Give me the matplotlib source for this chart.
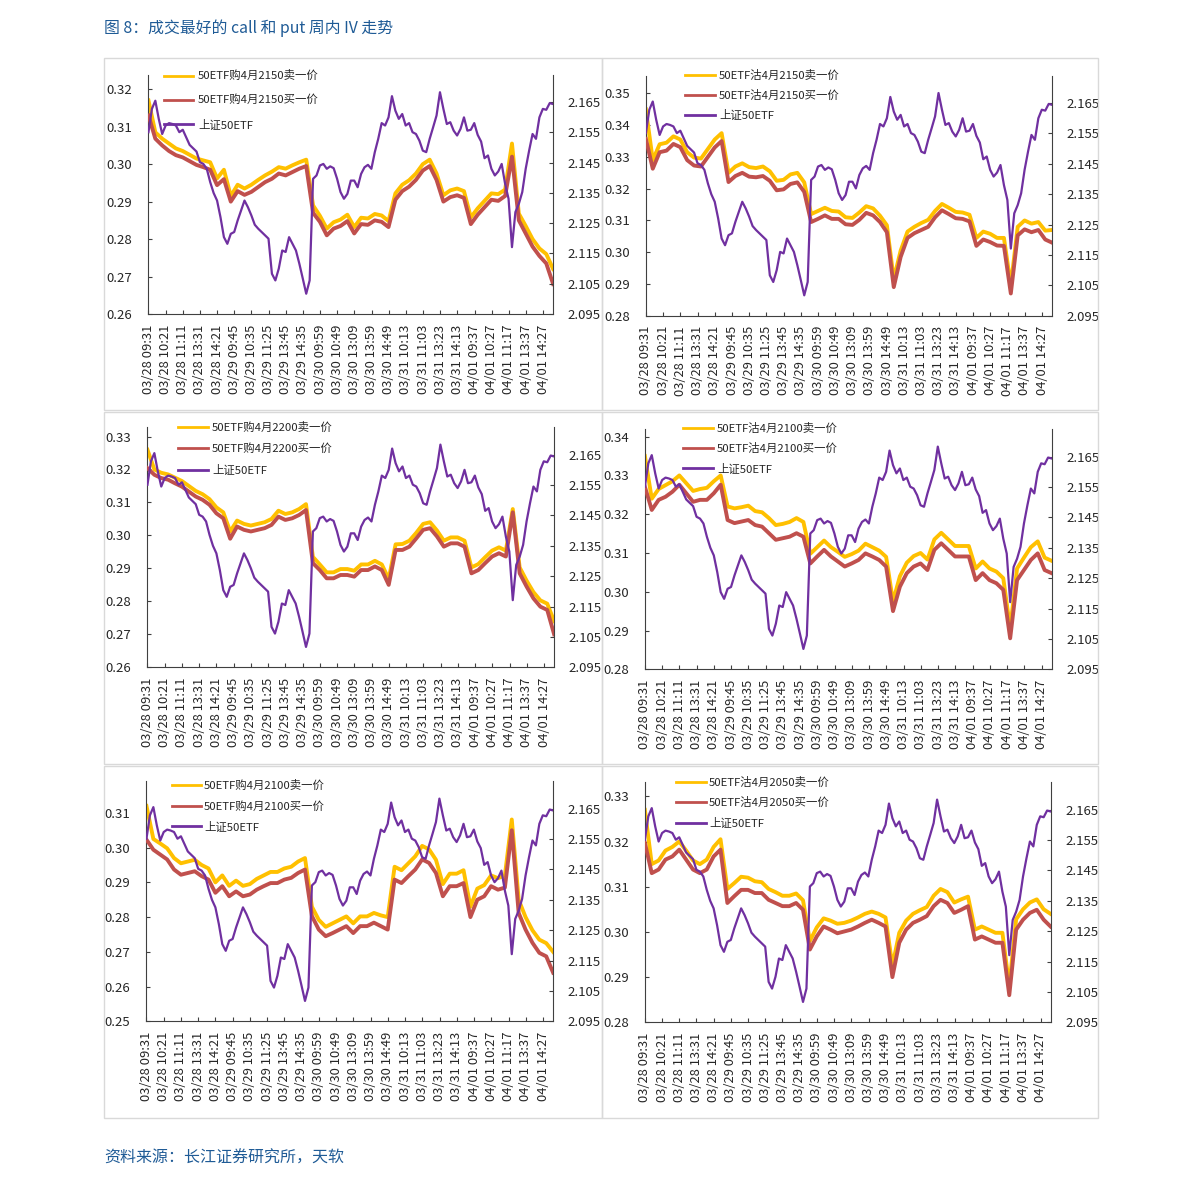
import numpy as np
import matplotlib
matplotlib.use("Agg")
import matplotlib.pyplot as plt
from matplotlib.lines import Line2D
from matplotlib.patches import Rectangle

plt.rcParams['font.family'] = ['Noto Sans CJK SC', 'DejaVu Sans']

W, H = 1191, 1187
N = 1180  # minute bars, 03/28 09:31 -> 04/01 15:00

C_SELL = "#FFC000"
C_BUY = "#C0504D"
C_ETF = "#7030A0"
AX_COL = "#404040"
TXT_COL = "#262626"
TITLE_COL = "#1F5B96"

x_labels = ["03/28 09:31", "03/28 10:21", "03/28 11:11", "03/28 13:31", "03/28 14:21",
            "03/29 09:45", "03/29 10:35", "03/29 11:25", "03/29 13:45", "03/29 14:35",
            "03/30 09:59", "03/30 10:49", "03/30 13:09", "03/30 13:59", "03/30 14:49",
            "03/31 10:13", "03/31 11:03", "03/31 13:23", "03/31 14:13", "04/01 09:37",
            "04/01 10:27", "04/01 11:17", "04/01 13:37", "04/01 14:27"]

# ---------- 上证50ETF price, one reading every 10 minutes ----------
etf = [2.1551, 2.1628, 2.1655, 2.1595, 2.1545, 2.1573, 2.1581, 2.1578, 2.1573, 2.1551,
       2.1559, 2.1534, 2.1509, 2.1498, 2.1487, 2.1452, 2.1446, 2.1430, 2.1386, 2.1350,
       2.1325, 2.1270, 2.1204, 2.1182, 2.1215, 2.1221, 2.1259, 2.1292, 2.1325, 2.1303,
       2.1276, 2.1245, 2.1232, 2.1221, 2.1210, 2.1199, 2.1083, 2.1061, 2.1100, 2.1160,
       2.1155, 2.1204, 2.1182, 2.1160, 2.1116, 2.1067, 2.1017, 2.1061, 2.1397, 2.1408,
       2.1441, 2.1446, 2.1430, 2.1438, 2.1432, 2.1397, 2.1353, 2.1331, 2.1347, 2.1391,
       2.1391, 2.1369, 2.1413, 2.1435, 2.1443, 2.1430, 2.1485, 2.1529, 2.1581, 2.1573,
       2.1600, 2.1670, 2.1622, 2.1595, 2.1611, 2.1573, 2.1581, 2.1551, 2.1545, 2.1523,
       2.1490, 2.1485, 2.1529, 2.1567, 2.1606, 2.1683, 2.1628, 2.1578, 2.1584, 2.1556,
       2.1540, 2.1562, 2.1600, 2.1556, 2.1559, 2.1581, 2.1542, 2.1520, 2.1465, 2.1474,
       2.1430, 2.1408, 2.1421, 2.1446, 2.1380, 2.1331, 2.1171, 2.1287, 2.1314, 2.1353,
       2.1430, 2.1490, 2.1545, 2.1529, 2.1600, 2.1628, 2.1625, 2.1647, 2.1644]

# ---------- IV series, one reading every 20 minutes ----------
c2150_sell = [0.3170, 0.3085, 0.3068, 0.3055, 0.3042, 0.3035, 0.3025, 0.3015, 0.3010, 0.3005,
              0.2962, 0.2985, 0.2915, 0.2945, 0.2935, 0.2945, 0.2958, 0.2970, 0.2980, 0.2992,
              0.2988, 0.2997, 0.3005, 0.3012, 0.2890, 0.2862, 0.2828, 0.2845, 0.2852, 0.2865,
              0.2832, 0.2857, 0.2855, 0.2867, 0.2863, 0.2848, 0.2922, 0.2945, 0.2957, 0.2975,
              0.3000, 0.3012, 0.2975, 0.2917, 0.2930, 0.2935, 0.2928, 0.2858, 0.2882, 0.2902,
              0.2922, 0.2920, 0.2932, 0.3055, 0.2868, 0.2835, 0.2800, 0.2775, 0.2760, 0.2720]
c2150_buy = [0.3130, 0.3068, 0.3050, 0.3035, 0.3024, 0.3018, 0.3008, 0.2998, 0.2992, 0.2985,
             0.2944, 0.2960, 0.2900, 0.2928, 0.2918, 0.2926, 0.2939, 0.2952, 0.2961, 0.2975,
             0.2970, 0.2979, 0.2988, 0.2995, 0.2870, 0.2846, 0.2810, 0.2828, 0.2835, 0.2848,
             0.2815, 0.2840, 0.2838, 0.2850, 0.2846, 0.2832, 0.2905, 0.2928, 0.2940, 0.2958,
             0.2983, 0.2995, 0.2958, 0.2900, 0.2912, 0.2917, 0.2910, 0.2840, 0.2865, 0.2885,
             0.2905, 0.2902, 0.2915, 0.3020, 0.2850, 0.2815, 0.2780, 0.2755, 0.2735, 0.2680]

p2150_sell = [0.3450, 0.3290, 0.3340, 0.3345, 0.3365, 0.3355, 0.3315, 0.3298, 0.3295, 0.3325,
              0.3355, 0.3375, 0.3250, 0.3270, 0.3280, 0.3268, 0.3265, 0.3270, 0.3255, 0.3225,
              0.3228, 0.3245, 0.3250, 0.3220, 0.3120, 0.3130, 0.3140, 0.3130, 0.3128, 0.3110,
              0.3108, 0.3125, 0.3145, 0.3138, 0.3115, 0.3085, 0.2915, 0.3005, 0.3065, 0.3080,
              0.3092, 0.3102, 0.3130, 0.3152, 0.3140, 0.3127, 0.3125, 0.3118, 0.3045, 0.3065,
              0.3058, 0.3045, 0.3045, 0.2895, 0.3080, 0.3100, 0.3090, 0.3095, 0.3068, 0.3070]
p2150_buy = [0.3357, 0.3263, 0.3315, 0.3320, 0.3341, 0.3331, 0.3290, 0.3273, 0.3270, 0.3300,
             0.3330, 0.3350, 0.3221, 0.3240, 0.3250, 0.3238, 0.3236, 0.3240, 0.3225, 0.3195,
             0.3198, 0.3215, 0.3220, 0.3190, 0.3095, 0.3105, 0.3116, 0.3105, 0.3105, 0.3088,
             0.3086, 0.3102, 0.3124, 0.3116, 0.3095, 0.3063, 0.2890, 0.2985, 0.3045, 0.3060,
             0.3070, 0.3080, 0.3110, 0.3132, 0.3120, 0.3107, 0.3105, 0.3097, 0.3020, 0.3040,
             0.3032, 0.3021, 0.3020, 0.2870, 0.3053, 0.3072, 0.3063, 0.3070, 0.3040, 0.3030]

c2200_sell = [0.3260, 0.3200, 0.3190, 0.3185, 0.3175, 0.3165, 0.3150, 0.3135, 0.3125, 0.3110,
              0.3085, 0.3070, 0.3012, 0.3045, 0.3035, 0.3030, 0.3035, 0.3040, 0.3050, 0.3075,
              0.3065, 0.3070, 0.3080, 0.3095, 0.2935, 0.2912, 0.2888, 0.2888, 0.2898, 0.2898,
              0.2893, 0.2912, 0.2912, 0.2923, 0.2912, 0.2868, 0.2973, 0.2974, 0.2984, 0.3008,
              0.3035, 0.3040, 0.3015, 0.2984, 0.2994, 0.2994, 0.2984, 0.2903, 0.2913, 0.2934,
              0.2954, 0.2964, 0.2954, 0.3080, 0.2903, 0.2863, 0.2828, 0.2803, 0.2793, 0.2740]
c2200_buy = [0.3204, 0.3184, 0.3174, 0.3169, 0.3158, 0.3148, 0.3133, 0.3118, 0.3108, 0.3093,
             0.3067, 0.3052, 0.2990, 0.3027, 0.3017, 0.3012, 0.3017, 0.3022, 0.3032, 0.3057,
             0.3047, 0.3052, 0.3062, 0.3077, 0.2916, 0.2895, 0.2870, 0.2870, 0.2880, 0.2880,
             0.2875, 0.2895, 0.2895, 0.2906, 0.2895, 0.2850, 0.2956, 0.2956, 0.2966, 0.2991,
             0.3017, 0.3022, 0.2997, 0.2966, 0.2976, 0.2976, 0.2966, 0.2885, 0.2895, 0.2916,
             0.2936, 0.2946, 0.2936, 0.3070, 0.2885, 0.2845, 0.2809, 0.2784, 0.2774, 0.2700]

p2100_sell = [0.3350, 0.3240, 0.3265, 0.3275, 0.3285, 0.3300, 0.3280, 0.3260, 0.3265, 0.3268,
              0.3285, 0.3300, 0.3220, 0.3215, 0.3218, 0.3222, 0.3208, 0.3205, 0.3190, 0.3172,
              0.3175, 0.3180, 0.3190, 0.3180, 0.3098, 0.3115, 0.3132, 0.3115, 0.3103, 0.3090,
              0.3097, 0.3106, 0.3124, 0.3115, 0.3106, 0.3090, 0.2975, 0.3040, 0.3075, 0.3092,
              0.3100, 0.3083, 0.3135, 0.3152, 0.3135, 0.3118, 0.3118, 0.3118, 0.3060, 0.3078,
              0.3060, 0.3052, 0.3035, 0.2905, 0.3060, 0.3088, 0.3115, 0.3130, 0.3088, 0.3080]
p2100_buy = [0.3271, 0.3211, 0.3237, 0.3245, 0.3258, 0.3276, 0.3254, 0.3232, 0.3237, 0.3237,
             0.3254, 0.3276, 0.3185, 0.3177, 0.3181, 0.3185, 0.3172, 0.3168, 0.3151, 0.3134,
             0.3138, 0.3142, 0.3151, 0.3142, 0.3073, 0.3091, 0.3108, 0.3091, 0.3078, 0.3065,
             0.3073, 0.3082, 0.3099, 0.3091, 0.3082, 0.3065, 0.2950, 0.3013, 0.3048, 0.3065,
             0.3073, 0.3056, 0.3108, 0.3125, 0.3108, 0.3091, 0.3091, 0.3091, 0.3030, 0.3048,
             0.3030, 0.3022, 0.3005, 0.2880, 0.3030, 0.3056, 0.3082, 0.3099, 0.3056, 0.3048]

c2100_sell = [0.3120, 0.3025, 0.3012, 0.2998, 0.2970, 0.2955, 0.2960, 0.2965, 0.2950, 0.2940,
              0.2900, 0.2920, 0.2890, 0.2905, 0.2890, 0.2895, 0.2910, 0.2920, 0.2930, 0.2930,
              0.2940, 0.2945, 0.2960, 0.2970, 0.2830, 0.2792, 0.2772, 0.2782, 0.2792, 0.2802,
              0.2782, 0.2802, 0.2802, 0.2812, 0.2805, 0.2800, 0.2945, 0.2935, 0.2955, 0.2975,
              0.3005, 0.2995, 0.2965, 0.2895, 0.2925, 0.2925, 0.2935, 0.2830, 0.2882, 0.2892,
              0.2920, 0.2912, 0.2920, 0.3081, 0.2850, 0.2800, 0.2762, 0.2735, 0.2725, 0.2700]
c2100_buy = [0.3023, 0.2994, 0.2980, 0.2966, 0.2937, 0.2922, 0.2927, 0.2932, 0.2918, 0.2908,
             0.2870, 0.2889, 0.2860, 0.2874, 0.2860, 0.2865, 0.2879, 0.2889, 0.2898, 0.2898,
             0.2908, 0.2913, 0.2927, 0.2937, 0.2803, 0.2764, 0.2745, 0.2754, 0.2764, 0.2774,
             0.2754, 0.2774, 0.2774, 0.2784, 0.2774, 0.2764, 0.2908, 0.2898, 0.2918, 0.2937,
             0.2966, 0.2956, 0.2927, 0.2860, 0.2889, 0.2889, 0.2898, 0.2800, 0.2850, 0.2860,
             0.2889, 0.2879, 0.2885, 0.3050, 0.2812, 0.2764, 0.2726, 0.2697, 0.2687, 0.2640]

p2050_sell = [0.3270, 0.3150, 0.3158, 0.3180, 0.3188, 0.3200, 0.3180, 0.3158, 0.3150, 0.3160,
              0.3188, 0.3205, 0.3095, 0.3108, 0.3122, 0.3120, 0.3112, 0.3110, 0.3095, 0.3088,
              0.3080, 0.3080, 0.3085, 0.3070, 0.2980, 0.3010, 0.3030, 0.3025, 0.3018, 0.3020,
              0.3025, 0.3032, 0.3040, 0.3045, 0.3040, 0.3032, 0.2925, 0.2998, 0.3025, 0.3040,
              0.3048, 0.3055, 0.3080, 0.3095, 0.3088, 0.3065, 0.3072, 0.3078, 0.3005, 0.3012,
              0.3005, 0.2998, 0.2998, 0.2880, 0.3028, 0.3050, 0.3065, 0.3072, 0.3050, 0.3040]
p2050_buy = [0.3197, 0.3130, 0.3138, 0.3160, 0.3167, 0.3182, 0.3160, 0.3138, 0.3130, 0.3138,
             0.3167, 0.3182, 0.3064, 0.3079, 0.3093, 0.3093, 0.3086, 0.3086, 0.3071, 0.3064,
             0.3057, 0.3057, 0.3064, 0.3049, 0.2961, 0.2990, 0.3012, 0.3005, 0.2997, 0.3001,
             0.3005, 0.3012, 0.3020, 0.3027, 0.3020, 0.3012, 0.2900, 0.2976, 0.3005, 0.3020,
             0.3027, 0.3035, 0.3057, 0.3071, 0.3064, 0.3042, 0.3049, 0.3057, 0.2983, 0.2990,
             0.2983, 0.2976, 0.2976, 0.2860, 0.3005, 0.3027, 0.3042, 0.3049, 0.3027, 0.3012]

# ---------- panel layout (pixels): frame, plot box, left y range, legend ----------
panels = [
    dict(frame=(104, 58, 602, 410), box=(148.3, 75, 553.3, 314), ylim=(0.26, 0.3238), yt=(0.26, 0.32),
         sell=c2150_sell, buy=c2150_buy, name="50ETF购4月2150",
         leg=(164, 193, 198, (75.7, 100, 124.3))),
    dict(frame=(602, 58, 1098, 410), box=(645.7, 75.7, 1052.3, 315.7), ylim=(0.28, 0.3556), yt=(0.28, 0.35),
         sell=p2150_sell, buy=p2150_buy, name="50ETF沽4月2150",
         leg=(685, 715, 719, (75, 95, 115))),
    dict(frame=(104, 412, 602, 764), box=(147.3, 427.3, 554.3, 667.3), ylim=(0.26, 0.3328), yt=(0.26, 0.33),
         sell=c2200_sell, buy=c2200_buy, name="50ETF购4月2200",
         leg=(178, 208, 212, (427.3, 448.3, 470))),
    dict(frame=(602, 412, 1098, 764), box=(644.7, 429.3, 1051.7, 669.3), ylim=(0.28, 0.3419), yt=(0.28, 0.34),
         sell=p2100_sell, buy=p2100_buy, name="50ETF沽4月2100",
         leg=(683, 713, 717, (428.3, 448.3, 468.3))),
    dict(frame=(104, 766, 602, 1118), box=(146.3, 781.3, 553.3, 1021.3), ylim=(0.25, 0.3191), yt=(0.25, 0.31),
         sell=c2100_sell, buy=c2100_buy, name="50ETF购4月2100",
         leg=(172, 201, 204, (785.3, 806.3, 826.3))),
    dict(frame=(602, 766, 1098, 1118), box=(644.7, 782.3, 1050.7, 1022.3), ylim=(0.28, 0.3331), yt=(0.28, 0.33),
         sell=p2050_sell, buy=p2050_buy, name="50ETF沽4月2050",
         leg=(676, 706, 709, (782, 802.3, 823))),
]

fig = plt.figure(figsize=(W / 100, H / 100), dpi=100)
fig.patch.set_facecolor("white")

fig.text(104 / W, 1 - 28 / H, "图 8：成交最好的 call 和 put 周内 IV 走势",
         fontsize=11.4, color=TITLE_COL, ha="left", va="center")
fig.text(104 / W, 1 - 1158 / H, "资料来源：长江证券研究所，天软",
         fontsize=11.5, color=TITLE_COL, ha="left", va="center")

x_etf = np.linspace(0, N - 1, len(etf))
x_iv = np.linspace(0, N - 1, len(c2150_buy))
tick_len = 4 * 72 / 100

for p in panels:
    fx0, fy0, fx1, fy1 = p["frame"]
    fig.add_artist(Rectangle((fx0 / W, 1 - fy1 / H), (fx1 - fx0) / W, (fy1 - fy0) / H,
                             transform=fig.transFigure, facecolor="none",
                             edgecolor="#D9D9D9", linewidth=1.0))
    l, t, r, b = p["box"]
    ax = fig.add_axes([l / W, 1 - b / H, (r - l) / W, (b - t) / H])
    ax.plot(x_iv, p["sell"], color=C_SELL, lw=2.8, zorder=2)
    ax.plot(x_iv, p["buy"], color=C_BUY, lw=2.8, zorder=3)
    ax.set_xlim(-0.5, N - 0.5)
    ax.set_ylim(*p["ylim"])
    lo, hi = p["yt"]
    ax.set_yticks(np.round(np.arange(lo, hi + 0.001, 0.01), 2))
    ax.yaxis.set_major_formatter(plt.FormatStrFormatter("%.2f"))
    ax.set_xticks(np.arange(0, N, 50))
    ax.set_xticklabels(x_labels, rotation=90)
    ax.tick_params(axis="y", direction="in", length=tick_len, color=AX_COL, labelsize=9.5,
                   labelcolor=TXT_COL, pad=11.5)
    ax.tick_params(axis="x", direction="in", length=tick_len, color=AX_COL, labelsize=9.3,
                   labelcolor=TXT_COL, pad=7.5)
    for s in ["top", "right"]:
        ax.spines[s].set_visible(False)
    for s in ["left", "bottom"]:
        ax.spines[s].set_color(AX_COL)

    ax2 = ax.twinx()
    ax2.plot(x_etf, etf, color=C_ETF, lw=1.6, zorder=4)
    ax2.set_ylim(2.095, 2.174)
    ax2.set_yticks(np.round(np.arange(2.095, 2.1651, 0.01), 3))
    ax2.yaxis.set_major_formatter(plt.FormatStrFormatter("%.3f"))
    ax2.tick_params(axis="y", direction="in", length=tick_len, color=AX_COL, labelsize=9.5,
                    labelcolor=TXT_COL, pad=10.5)
    for s in ["top", "left", "bottom"]:
        ax2.spines[s].set_visible(False)
    ax2.spines["right"].set_color(AX_COL)

    # legend, drawn by hand without a box
    lx0, lx1, tx, rows = p["leg"]
    labels = [p["name"] + "卖一价", p["name"] + "买一价", "上证50ETF"]
    for lab, col, yy in zip(labels, [C_SELL, C_BUY, C_ETF], rows):
        fig.add_artist(Line2D([lx0 / W, lx1 / W], [1 - yy / H, 1 - yy / H],
                              transform=fig.transFigure, color=col, lw=2.0))
        fig.text(tx / W, 1 - yy / H, lab, fontsize=8.2, color=TXT_COL,
                 ha="left", va="center")

fig.savefig("out.png", dpi=100, facecolor="white")
